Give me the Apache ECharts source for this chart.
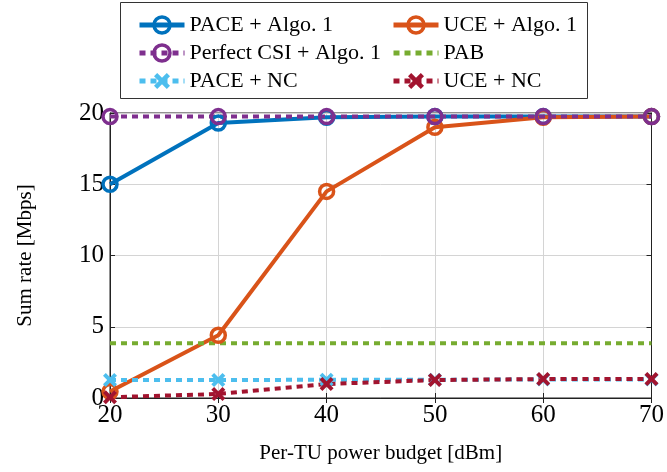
<!DOCTYPE html>
<html><head><meta charset="utf-8">
<script src="https://cdn.jsdelivr.net/npm/echarts@6/dist/echarts.min.js"></script>
<style>html,body{margin:0;padding:0;background:#fff}#c{width:667px;height:472px}</style>
</head><body><div id="c"></div>
<script>
var budgets = [20, 30, 40, 50, 60, 70];
var paceAlgo = [15.0, 19.3, 19.7, 19.75, 19.75, 19.75];
var uceAlgo = [0.45, 4.4, 14.5, 19.0, 19.7, 19.75];
var perfectCsi = [19.75, 19.75, 19.75, 19.75, 19.75, 19.75];
var pab = [3.85, 3.85, 3.85, 3.85, 3.85, 3.85];
var paceNc = [1.26, 1.26, 1.28, 1.28, 1.3, 1.3];
var uceNc = [0.05, 0.28, 0.98, 1.26, 1.33, 1.33];
var xTicks = [20, 30, 40, 50, 60, 70];
var yTicks = [0, 5, 10, 15, 20];

var FONT = '"Liberation Serif", "DejaVu Serif", serif';
var crossPath = 'path://M2,0 L5,3 L8,0 L10,2 L7,5 L10,8 L8,10 L5,7 L2,10 L0,8 L3,5 L0,2 Z';

function pts(arr){ return budgets.map(function(b,i){ return [b, arr[i]]; }); }
function circleSeries(name, data, color, dashed){
  return {
    name: name, type: 'line', data: pts(data),
    symbol: 'circle', symbolSize: 14,
    lineStyle: {color: color, width: 4, type: dashed ? [6,5] : 'solid'},
    itemStyle: {color: 'rgba(255,255,255,0)', borderColor: color, borderWidth: 3.5},
    emphasis: {disabled: true}, animation: false
  };
}
function crossSeries(name, data, color){
  return {
    name: name, type: 'line', data: pts(data),
    symbol: crossPath, symbolSize: 14,
    lineStyle: {color: color, width: 4, type: [6,5]},
    itemStyle: {color: color},
    emphasis: {disabled: true}, animation: false
  };
}

var legendText = {fontFamily: FONT, fontSize: 22, color: '#000'};
var legendCommon = {
  orient: 'vertical', top: 9, itemWidth: 45, itemHeight: 20, itemGap: 6,
  textStyle: legendText, z: 60, selectedMode: false,
  lineStyle: {width: 5},
  itemStyle: {borderWidth: 3.5}
};
var chart = echarts.init(document.getElementById('c'));
chart.setOption({
  animation: false,
  backgroundColor: '#fff',
  textStyle: {fontFamily: FONT},
  grid: {left: 110, right: 13, top: 113, bottom: 74, show: true, borderColor: '#222', borderWidth: 1},
  xAxis: [{
    type: 'value', min: 20, max: 70, interval: 10,
    name: 'Per-TU power budget [dBm]', nameLocation: 'middle', nameGap: 45,
    nameTextStyle: {fontFamily: FONT, fontSize: 21, color: '#000'},
    axisLine: {show: true, lineStyle: {color: '#222'}},
    axisTick: {show: true, inside: true, length: 5, lineStyle: {color: '#222'}},
    axisLabel: {fontFamily: FONT, fontSize: 25, color: '#000', margin: 5,
      formatter: function(v){ return xTicks.indexOf(v) >= 0 ? String(v) : ''; }},
    splitLine: {show: true, lineStyle: {color: '#d4d4d4', width: 1}}
  },{
    type: 'value', position: 'top', min: 20, max: 70, interval: 10,
    axisLine: {show: true, lineStyle: {color: '#222'}},
    axisTick: {show: true, inside: true, length: 5, lineStyle: {color: '#222'}},
    axisLabel: {show: false}, splitLine: {show: false}
  }],
  yAxis: [{
    type: 'value', min: 0, max: 20, interval: 5,
    name: 'Sum rate [Mbps]', nameLocation: 'middle', nameGap: 74,
    nameTextStyle: {fontFamily: FONT, fontSize: 21, color: '#000'},
    axisLine: {show: true, lineStyle: {color: '#222'}},
    axisTick: {show: true, inside: true, length: 5, lineStyle: {color: '#222'}},
    axisLabel: {fontFamily: FONT, fontSize: 25, color: '#000', margin: 6,
      formatter: function(v){ return yTicks.indexOf(v) >= 0 ? String(v) : ''; }},
    splitLine: {show: true, lineStyle: {color: '#d4d4d4', width: 1}}
  },{
    type: 'value', position: 'right', min: 0, max: 20, interval: 5,
    axisLine: {show: true, lineStyle: {color: '#222'}},
    axisTick: {show: true, inside: true, length: 5, lineStyle: {color: '#222'}},
    axisLabel: {show: false}, splitLine: {show: false}
  }],
  graphic: [{
    type: 'rect', left: 120, top: 2, shape: {width: 467, height: 96},
    style: {fill: '#fff', stroke: '#333', lineWidth: 1}, z: 50
  }],
  legend: [
    Object.assign({}, legendCommon, {left: 132,
      data: ['PACE + Algo. 1', 'Perfect CSI + Algo. 1', 'PACE + NC']}),
    Object.assign({}, legendCommon, {left: 386,
      data: ['UCE + Algo. 1', {name: 'PAB', itemStyle: {opacity: 0}}, 'UCE + NC']})
  ],
  series: [
    circleSeries('PACE + Algo. 1', paceAlgo, '#0072BD', false),
    circleSeries('UCE + Algo. 1', uceAlgo, '#D95319', false),
    circleSeries('Perfect CSI + Algo. 1', perfectCsi, '#7E2F8E', true),
    {name: 'PAB', type: 'line', data: pts(pab), symbol: 'none', showSymbol: false,
     lineStyle: {color: '#77AC30', width: 4, type: [6,5]}, itemStyle: {color: '#77AC30'},
     emphasis: {disabled: true}, animation: false},
    crossSeries('PACE + NC', paceNc, '#4DBEEE'),
    crossSeries('UCE + NC', uceNc, '#A2142F')
  ]
});
</script></body></html>
